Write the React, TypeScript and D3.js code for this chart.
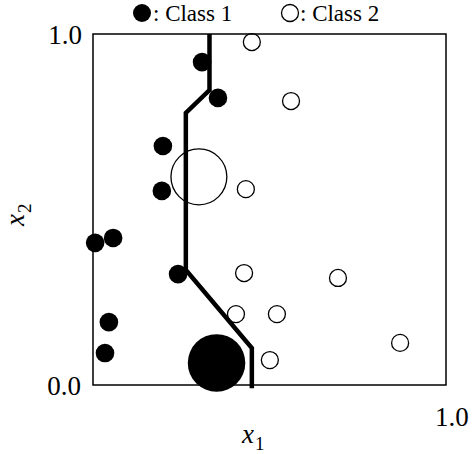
import React from "react";
import * as d3 from "d3";

const class1X = [0.309, 0.354, 0.198, 0.195, 0.006, 0.057, 0.241, 0.045, 0.034, 0.35];
const class1Y = [0.92, 0.818, 0.681, 0.553, 0.405, 0.419, 0.316, 0.179, 0.091, 0.063];
const class1W = [1, 1, 1, 1, 1, 1, 1, 1, 1, 10];

const class2X = [0.45, 0.561, 0.433, 0.428, 0.694, 0.405, 0.521, 0.501, 0.87, 0.3];
const class2Y = [0.977, 0.809, 0.558, 0.319, 0.305, 0.202, 0.202, 0.071, 0.12, 0.593];
const class2W = [1, 1, 1, 1, 1, 1, 1, 1, 1, 10];

const boundaryX = [0.33, 0.33, 0.263, 0.263, 0.45, 0.45];
const boundaryY = [1.0, 0.84, 0.775, 0.328, 0.105, -0.009];

const legendLabels = [": Class 1", ": Class 2"];
const tickLabels = ["0.0", "1.0"];

export default function App() {
  const W = 474, H = 454;
  const x = d3.scaleLinear().domain([0, 1]).range([93, 446]);
  const y = d3.scaleLinear().domain([0, 1]).range([385, 34]);
  const r = d3.scaleSqrt().domain([0, 1]).range([0, 9]);
  const font = "'Liberation Serif', 'Times New Roman', serif";

  const pts = boundaryX.map((v, i) => [x(v), y(boundaryY[i])] as [number, number]);
  const line = d3.line()(pts) || "";

  return (
    <svg width={W} height={H} style={{ position: "absolute", left: 0, top: 0, background: "#fff" }}>
      <rect x={x(0)} y={y(1)} width={x(1) - x(0)} height={y(0) - y(1)} fill="none" stroke="#000" strokeWidth={1.5} />
      {class2X.map((v, i) => (
        <circle key={"o" + i} cx={x(v)} cy={y(class2Y[i])} r={r(class2W[i]) - 0.5} fill="none" stroke="#000" strokeWidth={1.3} />
      ))}
      <path d={line} fill="none" stroke="#000" strokeWidth={4.5} strokeLinejoin="miter" />
      {class1X.map((v, i) => (
        <circle key={"f" + i} cx={x(v)} cy={y(class1Y[i])} r={r(class1W[i]) + 0.3} fill="#000" />
      ))}
      {/* legend */}
      <circle cx={142} cy={13} r={9} fill="#000" />
      <text x={153} y={21} fontFamily={font} fontSize={23}>{legendLabels[0]}</text>
      <circle cx={290} cy={13} r={8.5} fill="none" stroke="#000" strokeWidth={1.3} />
      <text x={300} y={21} fontFamily={font} fontSize={23}>{legendLabels[1]}</text>
      {/* ticks */}
      <text x={82} y={y(1) + 10} textAnchor="end" fontFamily={font} fontSize={27}>{tickLabels[1]}</text>
      <text x={81} y={y(0) + 10} textAnchor="end" fontFamily={font} fontSize={27}>{tickLabels[0]}</text>
      <text x={435} y={426} fontFamily={font} fontSize={27}>{tickLabels[1]}</text>
      {/* axis labels */}
      <text x={242} y={443} fontFamily={font} fontSize={27} fontStyle="italic">
        x<tspan dx={1} dy={7} fontSize={19} fontStyle="normal">1</tspan>
      </text>
      <text transform="translate(24,226) rotate(-90)" fontFamily={font} fontSize={27} fontStyle="italic">
        x<tspan dx={1} dy={7} fontSize={19} fontStyle="normal">2</tspan>
      </text>
    </svg>
  );
}
